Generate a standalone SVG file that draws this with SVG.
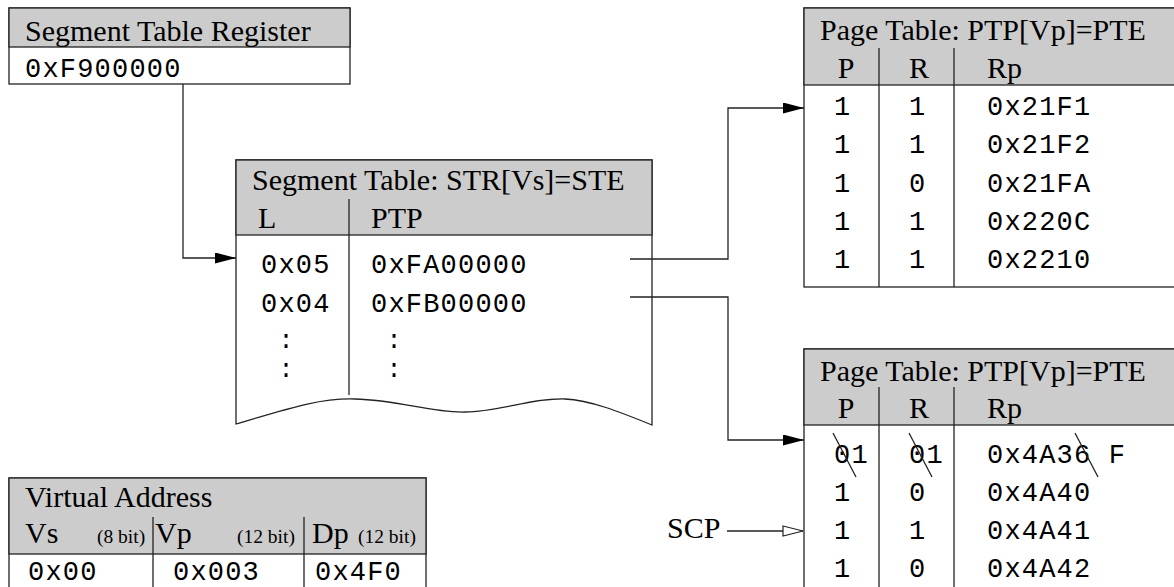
<svg xmlns="http://www.w3.org/2000/svg" width="1174" height="587" viewBox="0 0 1174 587">
<style>
.box{fill:#fff;stroke:#222;stroke-width:1.3}
.hdr{fill:#cccccc;stroke:#222;stroke-width:1.3}
.ln{fill:none;stroke:#222;stroke-width:1.3}
.t{font-family:"Liberation Serif","Times New Roman",serif;font-size:30px;fill:#000}
.s{font-family:"Liberation Serif","Times New Roman",serif;font-size:19.5px;fill:#000}
.m{font-family:"Liberation Mono","Courier New",monospace;font-size:27px;letter-spacing:1.2px;fill:#000}
.d{font-family:"Liberation Mono","Courier New",monospace;font-size:25px;fill:#000;text-anchor:middle}
.c{text-anchor:middle}
</style>
<defs>
<marker id="af" markerUnits="userSpaceOnUse" markerWidth="22" markerHeight="12" refX="21" refY="5.5" orient="auto">
<path d="M0,0 L21,5.5 L0,11 z" fill="#000"/>
</marker>
<marker id="ah" markerUnits="userSpaceOnUse" markerWidth="23" markerHeight="13" refX="21" refY="6" orient="auto">
<path d="M1,1 L21,6 L1,11 z" fill="#fff" stroke="#222" stroke-width="1.2"/>
</marker>
</defs>

<g id="segment-table-register">
<rect class="box" x="9" y="8" width="341" height="76"/>
<rect class="hdr" x="9" y="8" width="341" height="39"/>
<text class="t" x="25" y="41">Segment Table Register</text>
<text class="m" x="25" y="77">0xF900000</text>
</g>

<g id="segment-table">
<path class="box" d="M236,160 L652,160 L652,425 C620,412 590,400 565,399 C530,398 500,412 465,412 C430,413 400,400 355,399 C320,398 290,408 236,424 Z"/>
<rect class="hdr" x="236" y="160" width="416" height="75"/>
<text class="t" x="252" y="190">Segment Table: STR[Vs]=STE</text>
<text class="t" x="258" y="228">L</text>
<text class="t" x="371" y="228">PTP</text>
<line class="ln" x1="349" y1="199" x2="349" y2="395"/>
<text class="m" x="261" y="273">0x05</text>
<text class="m" x="371" y="273">0xFA00000</text>
<text class="m" x="261" y="312">0x04</text>
<text class="m" x="371" y="312">0xFB00000</text>
<text class="d" x="286" y="348">:</text>
<text class="d" x="394" y="348">:</text>
<text class="d" x="286" y="377">:</text>
<text class="d" x="394" y="377">:</text>
</g>

<g id="page-table-1">
<rect class="box" x="804" y="8" width="390" height="279"/>
<rect class="hdr" x="804" y="8" width="390" height="77"/>
<text class="t" x="820" y="40">Page Table: PTP[Vp]=PTE</text>
<text class="t c" x="846" y="78">P</text>
<text class="t c" x="919" y="78">R</text>
<text class="t" x="987" y="78">Rp</text>
<line class="ln" x1="879" y1="48" x2="879" y2="287"/>
<line class="ln" x1="954" y1="48" x2="954" y2="287"/>
<text class="m" x="834" y="115">1</text><text class="m" x="909" y="115">1</text><text class="m" x="987" y="115">0x21F1</text>
<text class="m" x="834" y="153">1</text><text class="m" x="909" y="153">1</text><text class="m" x="987" y="153">0x21F2</text>
<text class="m" x="834" y="192">1</text><text class="m" x="909" y="192">0</text><text class="m" x="987" y="192">0x21FA</text>
<text class="m" x="834" y="230">1</text><text class="m" x="909" y="230">1</text><text class="m" x="987" y="230">0x220C</text>
<text class="m" x="834" y="268">1</text><text class="m" x="909" y="268">1</text><text class="m" x="987" y="268">0x2210</text>
</g>

<g id="page-table-2">
<rect class="box" x="804" y="349" width="390" height="260"/>
<rect class="hdr" x="804" y="349" width="390" height="76"/>
<text class="t" x="820" y="381">Page Table: PTP[Vp]=PTE</text>
<text class="t c" x="846" y="418">P</text>
<text class="t c" x="919" y="418">R</text>
<text class="t" x="987" y="418">Rp</text>
<line class="ln" x1="879" y1="387" x2="879" y2="600"/>
<line class="ln" x1="954" y1="387" x2="954" y2="600"/>
<text class="m" x="834" y="463">01</text><text class="m" x="909" y="463">01</text><text class="m" x="987" y="463">0x4A36 F</text>
<line class="ln" x1="833" y1="433" x2="856" y2="477"/>
<line class="ln" x1="909" y1="433" x2="932" y2="477"/>
<line class="ln" x1="1075" y1="433" x2="1098" y2="477"/>
<text class="m" x="834" y="501">1</text><text class="m" x="909" y="501">0</text><text class="m" x="987" y="501">0x4A40</text>
<text class="m" x="834" y="539">1</text><text class="m" x="909" y="539">1</text><text class="m" x="987" y="539">0x4A41</text>
<text class="m" x="834" y="577">1</text><text class="m" x="909" y="577">0</text><text class="m" x="987" y="577">0x4A42</text>
</g>

<g id="virtual-address">
<rect class="box" x="9" y="478" width="417" height="130"/>
<rect class="hdr" x="9" y="478" width="417" height="76"/>
<text class="t" x="25" y="507">Virtual Address</text>
<text class="t" x="25" y="543">Vs</text>
<text class="s" x="97" y="543">(8 bit)</text>
<text class="t" x="155" y="543">Vp</text>
<text class="s" x="237" y="543">(12 bit)</text>
<text class="t" x="312" y="543">Dp</text>
<text class="s" x="358" y="543">(12 bit)</text>
<line class="ln" x1="153" y1="517" x2="153" y2="600"/>
<line class="ln" x1="304" y1="517" x2="304" y2="600"/>
<text class="m" x="28" y="580">0x00</text>
<text class="m" x="173" y="580">0x003</text>
<text class="m" x="315" y="580">0x4F0</text>
</g>

<g id="scp">
<text class="t" x="667" y="538">SCP</text>
</g>

<g id="connectors">
<path class="ln" d="M183,84 L183,258 L236,258" marker-end="url(#af)"/>
<path class="ln" d="M630,259 L728,259 L728,108 L804,108" marker-end="url(#af)"/>
<path class="ln" d="M630,297 L728,297 L728,440 L804,440" marker-end="url(#af)"/>
<path class="ln" d="M727,531 L803,531" marker-end="url(#ah)"/>
</g>
</svg>
